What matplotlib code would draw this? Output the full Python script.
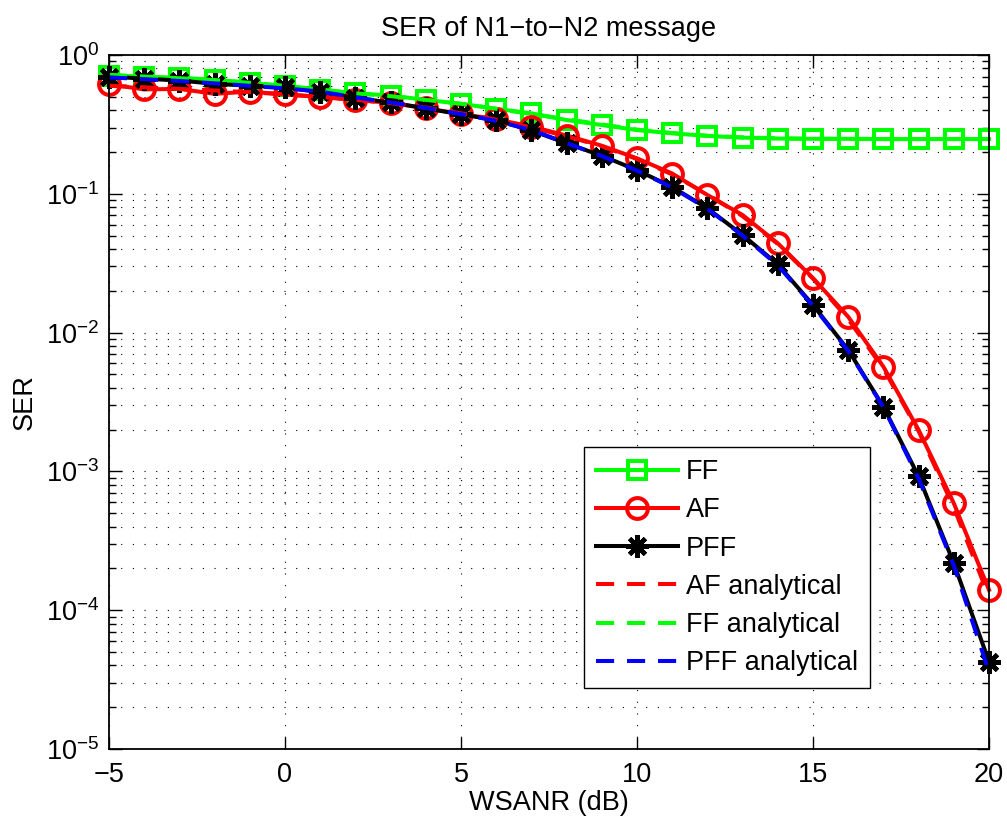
import numpy as np
import matplotlib
matplotlib.use("Agg")
import matplotlib.pyplot as plt
from matplotlib.ticker import LogLocator, FixedLocator, NullFormatter

plt.rcParams['font.family'] = ['Liberation Sans', 'DejaVu Sans']
plt.rcParams['mathtext.fontset'] = 'custom'
plt.rcParams['mathtext.rm'] = 'Liberation Sans'
plt.rcParams['mathtext.it'] = 'Liberation Sans:italic'
plt.rcParams['mathtext.bf'] = 'Liberation Sans:bold'
plt.rcParams['axes.unicode_minus'] = True

# WSANR grid (dB)
wsanr = np.arange(-5, 21)

# Simulated SER
ser_ff = [0.71, 0.70, 0.685, 0.665, 0.63, 0.595, 0.56, 0.53, 0.51, 0.475,
          0.445, 0.41, 0.38, 0.34, 0.313, 0.288, 0.273, 0.261, 0.254, 0.25,
          0.249, 0.249, 0.248, 0.248, 0.248, 0.248]
ser_af = [0.615, 0.565, 0.57, 0.525, 0.545, 0.52, 0.498, 0.474, 0.452, 0.413,
          0.376, 0.344, 0.305, 0.263, 0.222, 0.18, 0.14, 0.098, 0.0703, 0.044,
          0.0247, 0.013, 0.00568, 0.00199, 0.00059, 0.00014]
ser_pff = [0.70, 0.675, 0.655, 0.62, 0.60, 0.585, 0.54, 0.49, 0.455, 0.413,
           0.373, 0.34, 0.286, 0.231, 0.188, 0.148, 0.112, 0.0786, 0.0505, 0.031,
           0.0158, 0.0075, 0.00292, 0.00092, 0.000218, 0.0000426]

# Analytical SER
ser_af_an = [0.60, 0.585, 0.57, 0.555, 0.54, 0.52, 0.50, 0.476, 0.45, 0.418,
             0.38, 0.342, 0.30, 0.26, 0.22, 0.178, 0.138, 0.099, 0.069, 0.0435,
             0.0245, 0.0125, 0.0055, 0.00195, 0.00055, 0.000125]
ser_ff_an = [0.72, 0.70, 0.68, 0.66, 0.63, 0.60, 0.565, 0.53, 0.505, 0.475,
             0.445, 0.41, 0.375, 0.345, 0.316, 0.29, 0.274, 0.262, 0.255, 0.251,
             0.249, 0.248, 0.248, 0.248, 0.248, 0.248]
ser_pff_an = [0.69, 0.67, 0.65, 0.625, 0.60, 0.575, 0.545, 0.495, 0.455, 0.415,
              0.375, 0.335, 0.288, 0.232, 0.187, 0.147, 0.111, 0.078, 0.050, 0.0305,
              0.0156, 0.0074, 0.0029, 0.00089, 0.00021, 0.000036]

x_ticks = [-5, 0, 5, 10, 15, 20]

FS = 19.5
LW = 2.9

fig = plt.figure(figsize=(10.07, 8.23), dpi=100)
ax = fig.add_axes([109 / 1007, 74 / 823, 880 / 1007, 694 / 823])

ax.plot(wsanr, ser_ff, color=(0, 1, 0), lw=LW, marker='s', ms=13,
        mfc='none', mew=LW, label='FF', clip_on=False)
ax.plot(wsanr, ser_af, color=(1, 0, 0), lw=LW, marker='o', ms=15,
        mfc='none', mew=LW, label='AF', clip_on=False)
ax.plot(wsanr, ser_pff, color='black', lw=LW, marker=(8, 2, 0), ms=16,
        mew=3.3, label='PFF', clip_on=False)

dash = (4.5, 3.2)
ax.plot(wsanr, ser_af_an, color=(1, 0, 0), lw=LW, ls='--', dashes=dash,
        label='AF analytical')
ax.plot(wsanr, ser_ff_an, color=(0, 1, 0), lw=LW, ls='--', dashes=dash,
        label='FF analytical')
ax.plot(wsanr, ser_pff_an, color=(0, 0, 1), lw=LW, ls='--', dashes=dash,
        label='PFF analytical')

ax.set_yscale('log')
ax.set_xlim(-5, 20)
ax.set_ylim(1e-5, 1)
ax.xaxis.set_major_locator(FixedLocator(x_ticks))
ax.yaxis.set_major_locator(LogLocator(base=10, numticks=10))
ax.yaxis.set_minor_locator(LogLocator(base=10, subs=np.arange(2, 10), numticks=20))
ax.yaxis.set_minor_formatter(NullFormatter())

grid_ls = (0, (1, 9.5))
ax.grid(True, which='major', axis='both', color='black', lw=0.8, ls=grid_ls)
ax.grid(True, which='minor', axis='y', color='black', lw=0.8, ls=grid_ls)

ax.tick_params(which='both', direction='in', top=True, right=True,
               labelsize=FS, width=1.0)
ax.tick_params(which='major', length=9)
ax.tick_params(which='minor', length=5)
ax.tick_params(axis='x', pad=9)
ax.tick_params(axis='y', pad=7)
for s in ax.spines.values():
    s.set_linewidth(1.3)

ax.set_xlabel('WSANR (dB)', fontsize=FS, labelpad=2)
ax.set_ylabel('SER', fontsize=FS, labelpad=6)
ax.set_title('SER of N1\u2212to\u2212N2 message', fontsize=FS, pad=14)

leg = ax.legend(loc='upper left', bbox_to_anchor=(0.54, 0.435),
                borderaxespad=0, fontsize=FS, handlelength=3.0,
                handletextpad=0.3, labelspacing=0.45, borderpad=0.45,
                fancybox=False, framealpha=1, edgecolor='black')
leg.get_frame().set_linewidth(1.0)

fig.savefig('out.png', dpi=100)
